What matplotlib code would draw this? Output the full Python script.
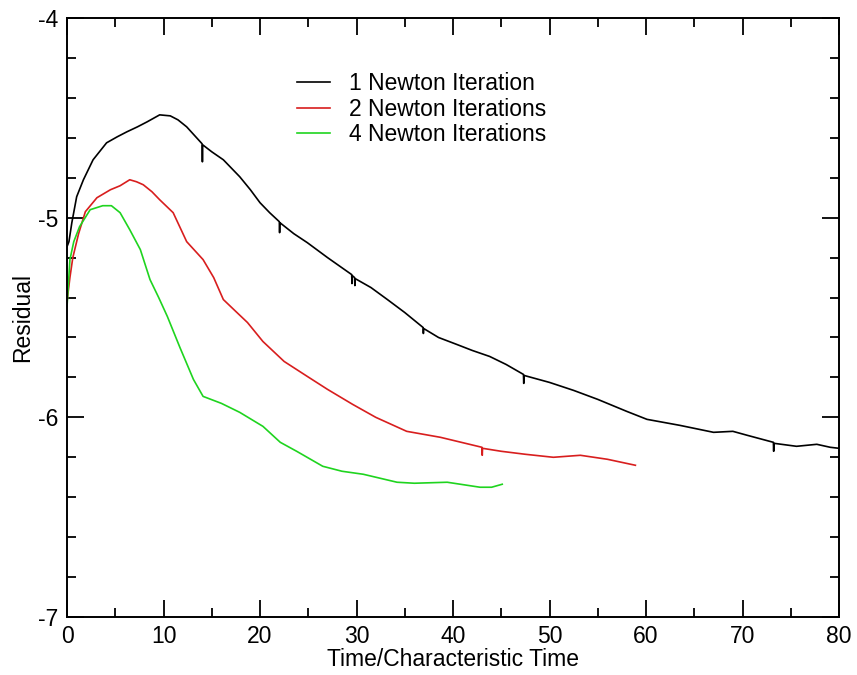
import matplotlib
matplotlib.use('Agg')
import matplotlib.pyplot as plt
from matplotlib.ticker import MultipleLocator

plt.rcParams['font.family'] = ['Liberation Sans', 'DejaVu Sans']
plt.rcParams['axes.unicode_minus'] = False

# residual history
t_one = [0, 0.2, 0.5, 1.0, 1.7, 2.7, 4.1, 5.2, 6.2, 7.3, 8.3, 9.6, 10.7, 11.5, 12.4, 14.0, 14.03,
         14.06, 15.0, 16.2, 17.9, 19.0, 20.0, 21.0, 22.0, 22.03, 22.06, 23.5, 24.9, 27.0, 29.5,
         29.53, 29.56, 29.8, 29.83, 29.86, 31.5, 33.2, 35.0, 36.9, 36.93, 36.96, 38.5, 40.4,
         42.0, 43.8, 45.5, 47.3, 47.33, 47.36, 50.0, 52.5, 55.0, 58.0, 60.1, 63.5, 67.0, 69.0,
         70.5, 73.2, 73.23, 73.26, 75.6, 77.7, 79.1, 80.0]
r_one = [-5.145, -5.12, -5.025, -4.895, -4.81, -4.71, -4.625, -4.595, -4.57, -4.545, -4.52,
         -4.485, -4.49, -4.51, -4.545, -4.63, -4.72, -4.635, -4.67, -4.71, -4.795, -4.86,
         -4.925, -4.975, -5.02, -5.075, -5.025, -5.08, -5.125, -5.2, -5.285, -5.33, -5.29,
         -5.3, -5.34, -5.305, -5.35, -5.41, -5.475, -5.55, -5.58, -5.555, -5.6, -5.635,
         -5.665, -5.695, -5.735, -5.785, -5.83, -5.79, -5.825, -5.865, -5.91, -5.97, -6.01,
         -6.04, -6.075, -6.07, -6.09, -6.125, -6.17, -6.13, -6.145, -6.135, -6.15, -6.155]

t_two = [0, 0.3, 0.6, 1.2, 1.9, 3.1, 4.5, 5.5, 6.5, 7.2, 7.9, 8.8, 9.6, 11.0, 12.4, 14.1, 15.2,
         16.2, 17.5, 18.7, 20.3, 22.5, 24.9, 27.0, 29.6, 32.0, 35.2, 38.7, 43.0, 43.03, 43.06,
         45.0, 47.5, 50.4, 53.2, 56.0, 58.9]
r_two = [-5.42, -5.3, -5.2, -5.08, -4.97, -4.9, -4.86, -4.84, -4.81, -4.82, -4.835, -4.87,
         -4.91, -4.975, -5.12, -5.21, -5.3, -5.41, -5.47, -5.525, -5.62, -5.72, -5.795, -5.86,
         -5.935, -6.0, -6.07, -6.1, -6.15, -6.19, -6.155, -6.17, -6.185, -6.2, -6.19, -6.21,
         -6.24]

t_four = [0, 0.3, 0.7, 1.3, 2.4, 3.7, 4.6, 5.5, 6.5, 7.6, 8.6, 9.5, 10.4, 11.7, 13.1, 14.1,
          16.0, 17.9, 20.3, 22.1, 23.8, 26.5, 28.5, 30.7, 34.2, 36.0, 39.4, 42.8, 44.0, 45.1]
r_four = [-5.445, -5.21, -5.12, -5.045, -4.96, -4.94, -4.94, -4.975, -5.06, -5.16, -5.31,
          -5.4, -5.495, -5.65, -5.81, -5.895, -5.93, -5.975, -6.045, -6.125, -6.17, -6.245,
          -6.27, -6.285, -6.325, -6.33, -6.325, -6.35, -6.35, -6.335]

fig = plt.figure(figsize=(8.57, 6.75), dpi=100)
ax = fig.add_axes([0.0782, 0.0859, 0.9008, 0.8874])

ax.plot(t_one, r_one, color='black', lw=1.2, label='1 Newton Iteration')
ax.plot(t_two, r_two, color='#d81e1e', lw=1.2, label='2 Newton Iterations')
ax.plot(t_four, r_four, color='#1fd41f', lw=1.2, label='4 Newton Iterations')

ax.set_xlim(0, 80)
ax.set_ylim(-7, -4)
ax.xaxis.set_major_locator(MultipleLocator(10))
ax.xaxis.set_minor_locator(MultipleLocator(5))
ax.yaxis.set_major_locator(MultipleLocator(1))
ax.yaxis.set_minor_locator(MultipleLocator(0.2))
ax.tick_params(which='both', direction='in', top=True, right=True, width=1.3,
               labelsize=16.5, pad=6)
ax.tick_params(which='major', length=12)
ax.tick_params(which='minor', length=6.5)
for s in ax.spines.values():
    s.set_linewidth(1.4)

ax.set_xlabel('Time/Characteristic Time', fontsize=16.5)
ax.set_ylabel('Residual', fontsize=16.5)
ax.xaxis.set_label_coords(0.5, -0.052)
ax.yaxis.set_label_coords(-0.042, 0.5)

ax.legend(loc='upper left', bbox_to_anchor=(0.298, 0.91), frameon=False, fontsize=16.5,
          borderpad=0, borderaxespad=0, handlelength=1.45, handletextpad=0.8,
          labelspacing=0.12)

plt.savefig('out.png', dpi=100)
